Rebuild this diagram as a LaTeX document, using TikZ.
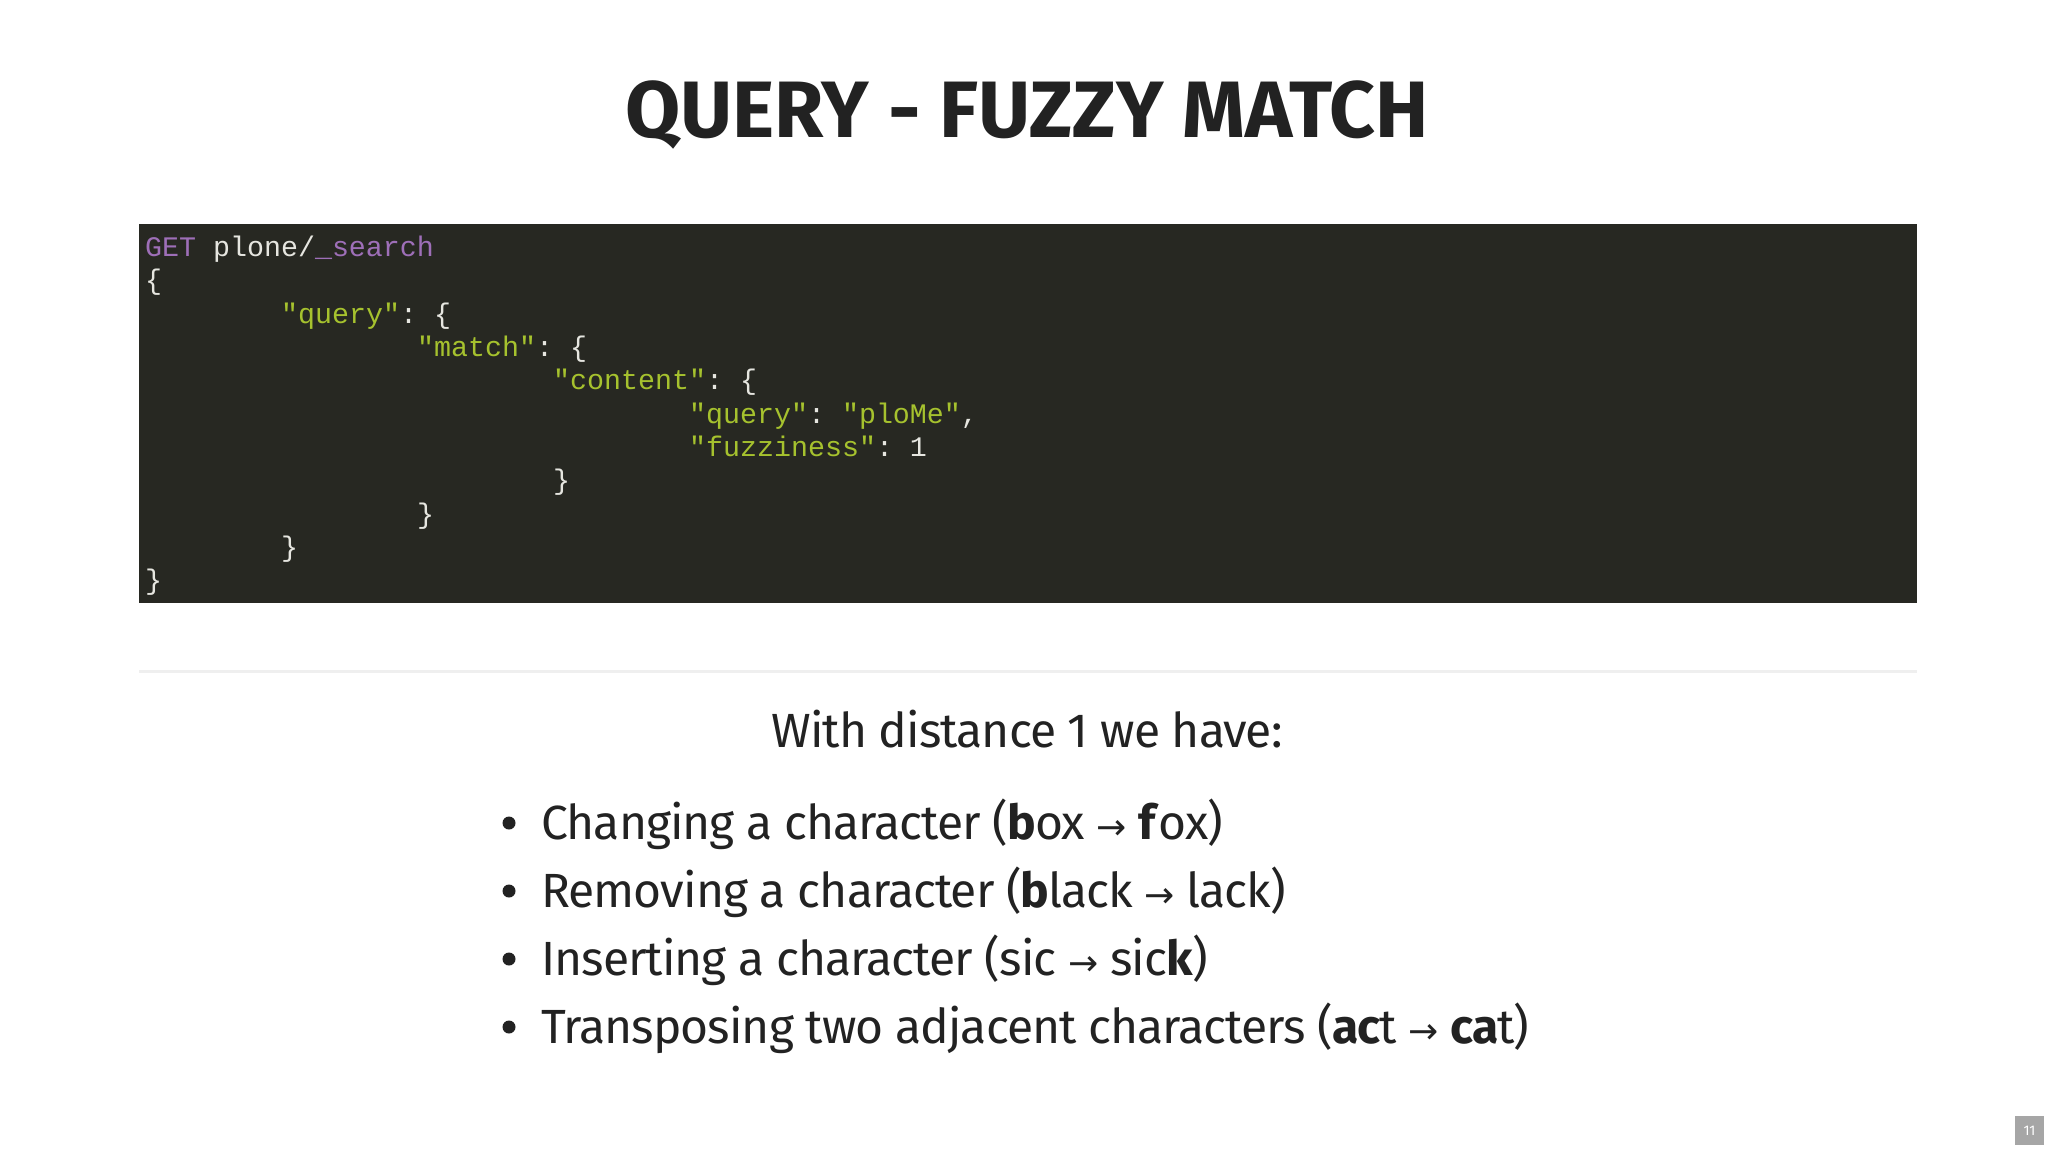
\documentclass[tikz,border=0pt]{standalone}
\usepackage{fontspec}
\setmainfont{Fira Sans}
\setmonofont{Liberation Mono}
\newfontfamily\arr{DejaVu Sans}
\usetikzlibrary{shadows}
\definecolor{codebg}{HTML}{272822}
\definecolor{kw}{HTML}{9E6FB8}
\definecolor{str}{HTML}{A6C22E}
\definecolor{plain}{HTML}{E6E6E0}
\definecolor{txt}{HTML}{222222}
\newcommand{\ar}{{\arr\fontsize{36}{36}\selectfont →}}
\begin{document}
\begin{tikzpicture}[x=1pt,y=-1pt,
  codeline/.style={anchor=base west,inner sep=0pt,font=\ttfamily\fontsize{28.3}{30}\selectfont,text=plain},
  bul/.style={anchor=base west,inner sep=0pt,font=\fontsize{48}{50}\selectfont\addfontfeatures{LetterSpace=-2},text=txt}]
\useasboundingbox (0,0) rectangle (2048,1152);
\fill[white] (0,0) rectangle (2048,1152);
\node[font=\bfseries\fontsize{80}{80}\selectfont,text=txt,inner sep=0pt] (title) at (1027,115) {QUERY - FUZZY MATCH};
\node[fill=white,draw=none,minimum width=1778,minimum height=479,inner sep=0pt,drop shadow={opacity=0.12,shadow xshift=0pt,shadow yshift=-3pt}] (outer) at (1028,430.5) {};
\fill[codebg] (139,224) rectangle (1917,603);
\node[codeline] (l1) at (145,256) {\textcolor{kw}{GET} plone/\textcolor{kw}{\_search}};
\node[codeline] (l2) at (145,289) {\{};
\node[codeline] (l3) at (281,323) {\textcolor{str}{"query"}: \{};
\node[codeline] (l4) at (417,356) {\textcolor{str}{"match"}: \{};
\node[codeline] (l5) at (553,389) {\textcolor{str}{"content"}: \{};
\node[codeline] (l6) at (689,423) {\textcolor{str}{"query"}: \textcolor{str}{"ploMe"},};
\node[codeline] (l7) at (689,456) {\textcolor{str}{"fuzziness"}: 1};
\node[codeline] (l8) at (553,489) {\}};
\node[codeline] (l9) at (417,523) {\}};
\node[codeline] (l10) at (281,556) {\}};
\node[codeline] (l11) at (145,589) {\}};
\node[font=\fontsize{48}{50}\selectfont\addfontfeatures{LetterSpace=-2},text=txt,inner sep=0pt] (sub) at (1027,729) {With distance 1 we have:};
\foreach \y/\n in {839/b1,907/b2,975/b3,1043/b4}{\fill[txt] (509,\y-16) circle (6.5);}
\node[bul] (t1) at (541,839) {Changing a character (\textbf{b}ox \ar{} \textbf{f}ox)};
\node[bul] (t2) at (541,907) {Removing a character (\textbf{b}lack \ar{} lack)};
\node[bul] (t3) at (541,975) {Inserting a character (sic \ar{} sic\textbf{k})};
\node[bul] (t4) at (541,1043) {Transposing two adjacent characters (\textbf{ac}t \ar{} \textbf{ca}t)};
\node[fill=gray!70,text=white,minimum width=29,minimum height=29,inner sep=0pt,font=\fontsize{14}{14}\selectfont] (pg) at (2029.5,1130.5) {11};
\end{tikzpicture}
\end{document}
